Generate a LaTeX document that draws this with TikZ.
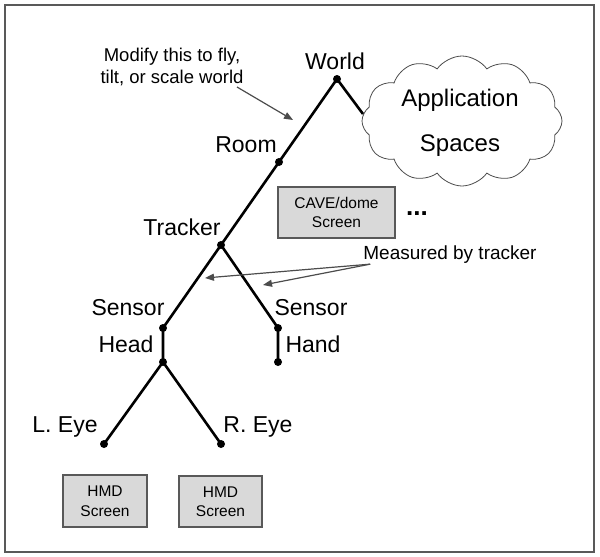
\documentclass[tikz,border=0pt]{standalone}
\usepackage{fontspec}
\setmainfont{Liberation Sans}
\usetikzlibrary{arrows.meta,shapes.symbols}
\begin{document}
\begin{tikzpicture}[x=1pt,y=-1pt,
  dot/.style={circle,fill=black,inner sep=0pt,minimum size=8pt},
  edge/.style={line width=2.6pt,black},
  big/.style={font=\fontsize{23}{27}\selectfont,inner sep=0pt,anchor=base},
  note/.style={font=\fontsize{18.5}{21.5}\selectfont,align=center,inner sep=0pt},
  screen/.style={draw=black!65,fill=black!15,line width=1.2pt,align=center,
    font=\fontsize{15.5}{19.5}\selectfont,inner sep=0pt},
  pointer/.style={draw=black!70,line width=1.2pt,-{Triangle[length=9pt,width=7pt]}}
]
\useasboundingbox (0,0) rectangle (600,557);
\draw[black!65,line width=2pt] (5,5) rectangle (594,552);

% cloud
\node[cloud,draw=black!70,line width=0.8pt,cloud puffs=12,cloud puff arc=110,
  cloud ignores aspect,minimum width=200pt,minimum height=130pt,inner sep=0pt] (cloud) at (462,121) {};
\node[font=\fontsize{24}{45}\selectfont,inner sep=0pt,align=center] (apptext) at (460,123) {Application\\Spaces};

% dots
\node[dot] (world) at (337,79) {};
\node[dot] (room) at (279,162) {};
\node[dot] (tracker) at (221,245) {};
\node[dot] (sensorL) at (163,328) {};
\node[dot] (sensorR) at (278,328) {};
\node[dot] (head) at (163,362) {};
\node[dot] (hand) at (278,362) {};
\node[dot] (leye) at (104,444) {};
\node[dot] (reye) at (221,444) {};
\coordinate (cloudjoin) at (363,114);

% tree edges
\draw[edge] (world.center) -- (room.center) -- (tracker.center) -- (sensorL.center) -- (head.center) -- (leye.center);
\draw[edge] (head.center) -- (reye.center);
\draw[edge] (tracker.center) -- (sensorR.center) -- (hand.center);
\draw[edge] (world.center) -- (cloudjoin);

% labels
\node[big] (lworld) at (335,69) {World};
\node[big] (lroom) at (246,152) {Room};
\node[big] (ltracker) at (182,235) {Tracker};
\node[big] (lsensorL) at (128,315) {Sensor};
\node[big] (lsensorR) at (311,315) {Sensor};
\node[big] (lhead) at (126,352) {Head};
\node[big] (lhand) at (313,352) {Hand};
\node[big] (lleye) at (65,432) {L. Eye};
\node[big] (lreye) at (258,432) {R. Eye};

% screens
\node[screen,minimum width=117pt,minimum height=51pt] (cave) at (336.5,212.5) {CAVE/dome\\Screen};
\node[font=\fontsize{26}{28}\selectfont,inner sep=0pt,anchor=base] (dots) at (417,215) {\textbf{...}};
\node[screen,minimum width=84pt,minimum height=52pt] (hmdL) at (105,501) {HMD\\Screen};
\node[screen,minimum width=83pt,minimum height=51pt] (hmdR) at (220.5,501.5) {HMD\\Screen};

% notes
\node[note] (modify) at (172,67) {Modify this to fly,\\tilt, or scale world};
\coordinate (modfrom) at (237,87);
\coordinate (modtip) at (293,120);
\draw[pointer] (modfrom) -- (modtip);

\node[font=\fontsize{19}{23}\selectfont,inner sep=0pt,anchor=base] (measured) at (450,259) {Measured by tracker};
\coordinate (meastipA) at (205,278);
\coordinate (meastipB) at (263,285);
\draw[pointer] ([xshift=7pt,yshift=-1pt]measured.south west) -- (meastipA);
\draw[pointer] ([xshift=7pt,yshift=-1pt]measured.south west) -- (meastipB);
\end{tikzpicture}
\end{document}
